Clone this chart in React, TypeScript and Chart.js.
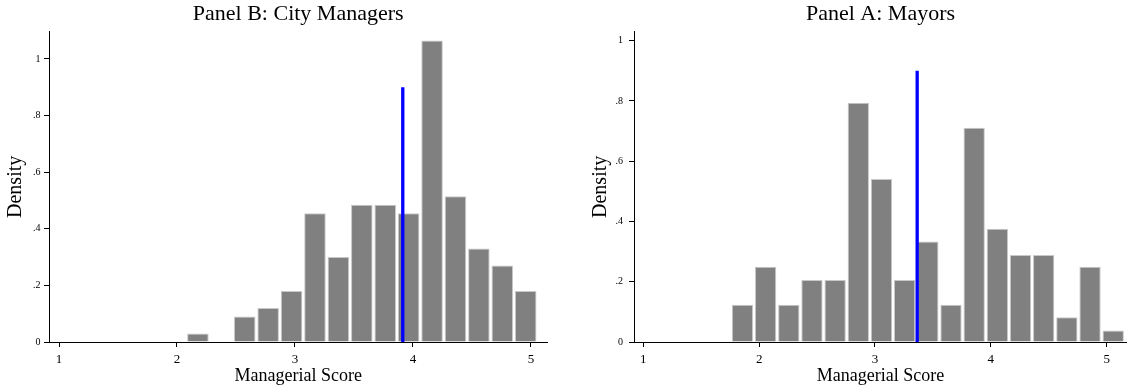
import React, { useEffect, useRef } from 'react';
import { Chart, registerables } from 'chart.js';

Chart.register(...registerables);

const SERIF = "'Liberation Serif', 'Times New Roman', Times, serif";

const xTickValues = [1, 2, 3, 4, 5];
const yTickValues = [0, 0.2, 0.4, 0.6, 0.8, 1];

// Panel B: City Managers (histogram, density)
const managersBinStart = 2.078;
const managersBinWidth = 0.1985;
const managersDensity = [0.03, 0, 0.09, 0.12, 0.18, 0.455, 0.3, 0.485, 0.485, 0.455, 1.065, 0.515, 0.33, 0.27, 0.18];
const managersMean = 3.914;

// Panel A: Mayors (histogram, density)
const mayorsBinStart = 1.756;
const mayorsBinWidth = 0.2;
const mayorsDensity = [0.124, 0.25, 0.124, 0.206, 0.206, 0.794, 0.541, 0.206, 0.334, 0.124, 0.711, 0.376, 0.289, 0.289, 0.082, 0.25, 0.038];
const mayorsMean = 3.364;

const meanLineTop = 0.9;

function yLabel(v: number): string {
  if (v === 0) return '0';
  if (v === 1) return '1';
  return String(v).replace(/^0/, '');
}

type PanelCfg = {
  title: string;
  binStart: number;
  binWidth: number;
  values: number[];
  mean: number;
  xMin: number;
  xMax: number;
  yMax: number;
  yAxisWidth: number;
  rightPad: number;
  yLabelPad: number;
  yTitlePad: number;
};

function makeChart(canvas: HTMLCanvasElement, cfg: PanelCfg) {
  const bars = cfg.values.map((v, i) => ({ x: cfg.binStart + cfg.binWidth * (i + 0.5), y: v }));
  return new Chart(canvas, {
    type: 'bar',
    data: {
      datasets: [
        {
          type: 'line',
          data: [
            { x: cfg.mean, y: 0 },
            { x: cfg.mean, y: meanLineTop },
          ],
          borderColor: '#0000ff',
          borderWidth: 3.3,
          pointRadius: 0,
          order: 0,
        } as any,
        {
          type: 'bar',
          data: bars,
          backgroundColor: '#808080',
          borderColor: '#c8c8c8',
          borderWidth: 1,
          barPercentage: 0.92,
          categoryPercentage: 1,
          order: 1,
        } as any,
      ],
    },
    options: {
      responsive: false,
      animation: false,
      layout: { padding: { left: 0, right: cfg.rightPad, top: 0, bottom: 0 } },
      plugins: {
        legend: { display: false },
        tooltip: { enabled: false },
        title: {
          display: true,
          text: cfg.title,
          fullSize: false,
          color: '#000',
          font: { family: SERIF, size: 22, weight: 'normal' },
          padding: { top: 1.4, bottom: 3.9 },
        },
      },
      scales: {
        x: {
          type: 'linear',
          min: cfg.xMin,
          max: cfg.xMax,
          offset: false,
          afterBuildTicks: (s: any) => {
            s.ticks = xTickValues.map((v) => ({ value: v }));
          },
          afterFit: (s: any) => {
            s.height = 50;
          },
          grid: { drawOnChartArea: false, drawTicks: true, tickLength: 5, color: '#000', offset: false },
          border: { display: true, color: '#000', width: 1 },
          ticks: {
            font: { family: SERIF, size: 13 },
            color: '#000',
            padding: 5,
            maxRotation: 0,
            autoSkip: false,
            callback: (v: any) => String(v),
          },
          title: {
            display: true,
            text: 'Managerial Score',
            color: '#000',
            font: { family: SERIF, size: 18 },
            padding: { top: 0, bottom: 5.2 },
          },
        },
        y: {
          type: 'linear',
          min: 0,
          max: cfg.yMax,
          afterBuildTicks: (s: any) => {
            s.ticks = yTickValues.map((v) => ({ value: v }));
          },
          afterFit: (s: any) => {
            s.width = cfg.yAxisWidth;
          },
          grid: { drawOnChartArea: false, drawTicks: true, tickLength: 5, color: '#000' },
          border: { display: true, color: '#000', width: 1 },
          ticks: {
            font: { family: SERIF, size: 10 },
            color: '#000',
            padding: cfg.yLabelPad,
            callback: (v: any) => yLabel(Number(v)),
          },
          title: {
            display: true,
            text: 'Density',
            color: '#000',
            font: { family: SERIF, size: 20 },
            padding: { top: cfg.yTitlePad, bottom: 0 },
          },
        },
      },
    } as any,
  });
}

const leftCfg: PanelCfg = {
  title: 'Panel B: City Managers',
  binStart: managersBinStart,
  binWidth: managersBinWidth,
  values: managersDensity,
  mean: managersMean,
  xMin: 0.915,
  xMax: 5.14,
  yMax: 1.096,
  yAxisWidth: 49,
  rightPad: 32.6,
  yLabelPad: 3.5,
  yTitlePad: 3.5,
};

const rightCfg: PanelCfg = {
  title: 'Panel A: Mayors',
  binStart: mayorsBinStart,
  binWidth: mayorsBinWidth,
  values: mayorsDensity,
  mean: mayorsMean,
  xMin: 0.92,
  xMax: 5.175,
  yMax: 1.03,
  yAxisWidth: 54,
  rightPad: 0,
  yLabelPad: 6,
  yTitlePad: 8.7,
};

export default function App() {
  const leftRef = useRef<HTMLCanvasElement>(null);
  const rightRef = useRef<HTMLCanvasElement>(null);

  useEffect(() => {
    const c1 = leftRef.current ? makeChart(leftRef.current, leftCfg) : null;
    const c2 = rightRef.current ? makeChart(rightRef.current, rightCfg) : null;
    return () => {
      c1?.destroy();
      c2?.destroy();
    };
  }, []);

  return (
    <div style={{ position: 'fixed', left: 0, top: 0, width: 1127, height: 392, background: '#fff' }}>
      <canvas ref={leftRef} width={580} height={392} style={{ position: 'absolute', left: 0, top: 0, width: 580, height: 392 }} />
      <canvas ref={rightRef} width={547} height={392} style={{ position: 'absolute', left: 580, top: 0, width: 547, height: 392 }} />
    </div>
  );
}
